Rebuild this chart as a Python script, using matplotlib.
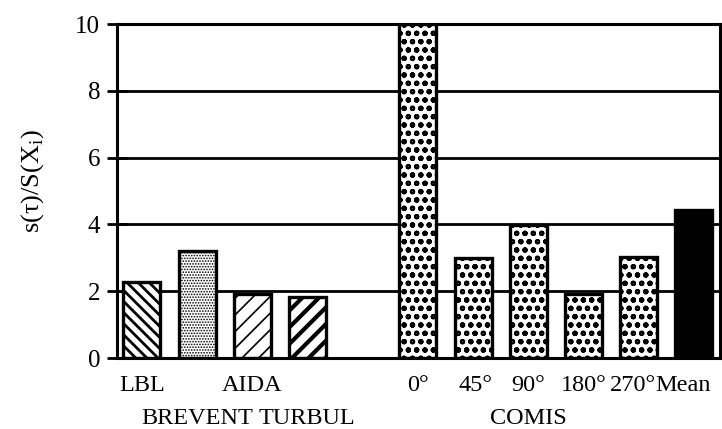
import matplotlib
matplotlib.use("Agg")
import matplotlib.pyplot as plt

plt.rcParams['font.family'] = ['Liberation Serif', 'DejaVu Serif']

labels_top = ["LBL", "", "AIDA", "", "0°", "45°", "90°", "180°", "270°", "Mean"]
labels_bottom = ["", "BREVENT", "", "TURBUL", "", "", "COMIS", "", "", ""]
positions = [0, 1, 2, 3, 5, 6, 7, 8, 9, 10]
values = [2.28, 3.2, 1.93, 1.82, 10.0, 3.0, 3.97, 1.93, 3.02, 4.44]
hatches = ["\\\\\\", "......", "//", "//", "oo", "oo", "oo", "oo", "oo", None]
hatch_lw = [2.0, 0.8, 1.2, 3.0, 1.5, 1.5, 1.5, 1.5, 1.5, 1.0]
facecolors = ["white"] * 9 + ["black"]
label_shift = {"45°": 0.05, "270°": -0.1, "Mean": -0.2}

fig = plt.figure(figsize=(7.22, 4.29), dpi=100)
ax = fig.add_axes([0.162, 0.1655, 0.835, 0.7785])

ax.set_ylim(0, 10)
ax.set_xlim(-0.45, 10.47)
for y in [2, 4, 6, 8]:
    ax.axhline(y, color="black", lw=2.0, zorder=1)

for p, v, h, hl, fc in zip(positions, values, hatches, hatch_lw, facecolors):
    b = ax.bar(p, v, width=0.67, color=fc, edgecolor="black", linewidth=2.4,
               hatch=h, zorder=2)
    for patch in b:
        if hasattr(patch, "set_hatch_linewidth"):
            patch.set_hatch_linewidth(hl)

for s in ax.spines.values():
    s.set_linewidth(2.2)

ax.set_yticks([0, 2, 4, 6, 8, 10])
ax.tick_params(axis='y', direction='inout', length=14, width=2, labelsize=18, pad=5)
ax.set_xticks([])

for p, t in zip(positions, labels_top):
    if t:
        dx = label_shift.get(t, 0.0)
        ax.text(p + dx, -0.5, t, ha="center", va="top", fontsize=17.5,
                transform=ax.transData)
for p, t in zip(positions, labels_bottom):
    if t:
        ax.text(p, -1.5, t, ha="center", va="top", fontsize=17.5,
                transform=ax.transData)

ax.set_ylabel("s(τ)/S(X$_\\mathregular{i}$)", fontsize=19)
ax.yaxis.set_label_coords(-0.117, 0.53)

fig.savefig("out.png", dpi=100)
